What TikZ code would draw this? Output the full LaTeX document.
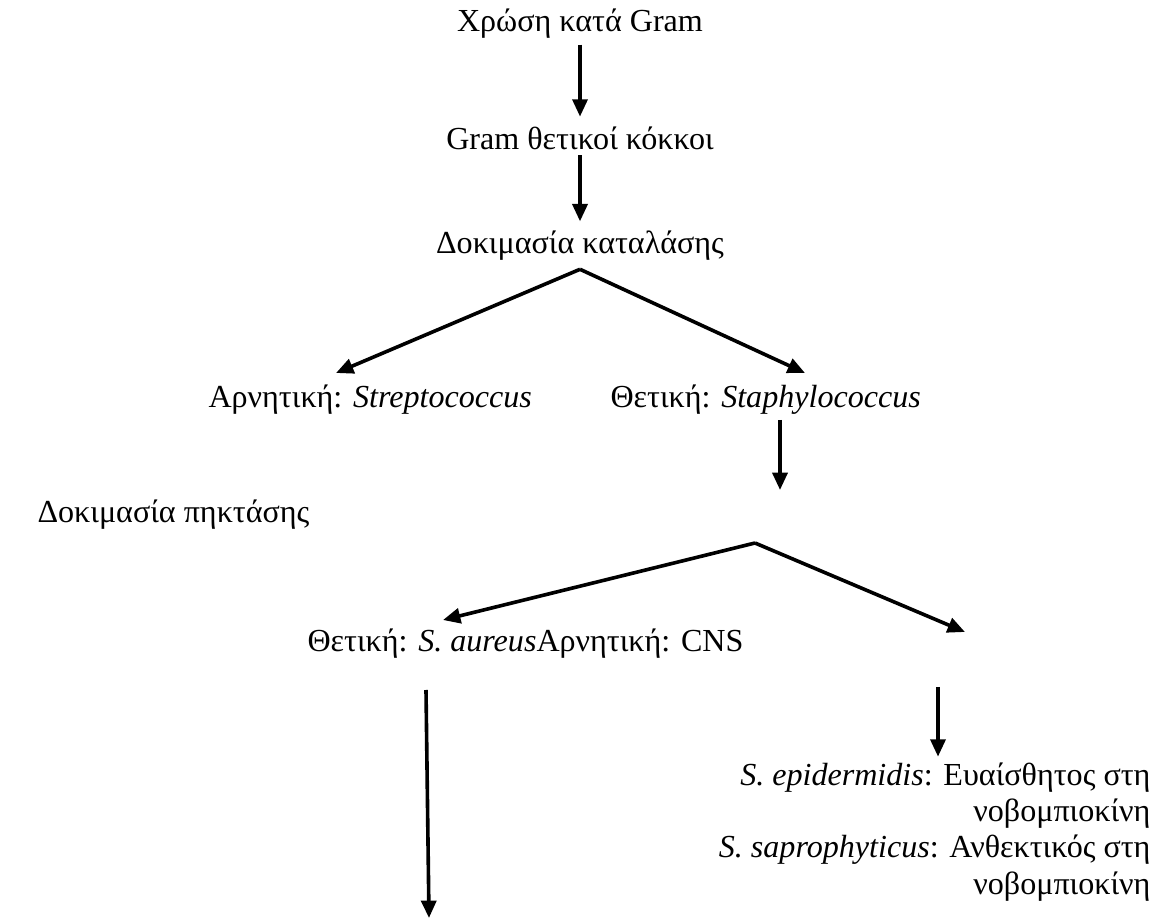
\documentclass[tikz,border=0pt]{standalone}
\usepackage{fontspec}
\setmainfont{Liberation Serif}
\usetikzlibrary{positioning,arrows.meta}

\begin{document}
\begin{tikzpicture}[x=0.374pt,y=-0.374pt,
    every node/.style={font=\fontsize{12}{13.6}\selectfont,inner sep=0pt},
    pfeil/.style={line width=1.35pt,-{Triangle[length=6.5pt,width=5.6pt]}}]
    \useasboundingbox (0,0) rectangle (1163,922);

    % Texte
    \node (gram) at (580,24) {Χρώση κατά Gram};
    \node (pos) at (580,138) {Gram θετικοί κόκκοι};
    \node (kat) at (580,246) {Δοκιμασία καταλάσης};
    \node[anchor=west] (strep) at (208,400) {Αρνητική: \textit{Streptococcus}};
    \node[anchor=west] (staph) at (610,400) {Θετική: \textit{Staphylococcus}};
    \node[anchor=west] (pikt) at (37,515) {Δοκιμασία πηκτάσης};
    \node[anchor=west] (aur) at (307,644) {Θετική: \textit{S. aureus}Αρνητική: CNS};
    \node[anchor=north east,align=right] (novo) at (1151,762)
        {\textit{S. epidermidis}: Ευαίσθητος στη\\ νοβομπιοκίνη\\
         \textit{S. saprophyticus}: Ανθεκτικός στη\\ νοβομπιοκίνη};

    % Hilfspunkte
    \coordinate[below=3pt of kat] (k1);
    \coordinate (k1l) at (336,373);
    \coordinate (k1r) at (805,373);
    \coordinate (s1) at (780,420);
    \coordinate (s2) at (780,490);
    \coordinate (k2) at (755,543);
    \coordinate (k2l) at (443,620);
    \coordinate (k2r) at (965,632);
    \coordinate (a1) at (426,690);
    \coordinate (a2) at (429,918);
    \coordinate (n1) at (938,687);

    \draw[pfeil,shorten <=2pt,shorten >=3.5pt] (gram.south) -- (pos.north);
    \draw[pfeil,shorten <=2pt,shorten >=3.5pt] (pos.south) -- (kat.north);
    \draw[pfeil] (k1) -- (k1l);
    \draw[pfeil] (k1) -- (k1r);
    \draw[pfeil] (s1) -- (s2);
    \draw[pfeil] (k2) -- (k2l);
    \draw[pfeil] (k2) -- (k2r);
    \draw[pfeil] (a1) -- (a2);
    \draw[pfeil,shorten >=2pt] (n1) -- (novo.north -| n1);
\end{tikzpicture}
\end{document}
